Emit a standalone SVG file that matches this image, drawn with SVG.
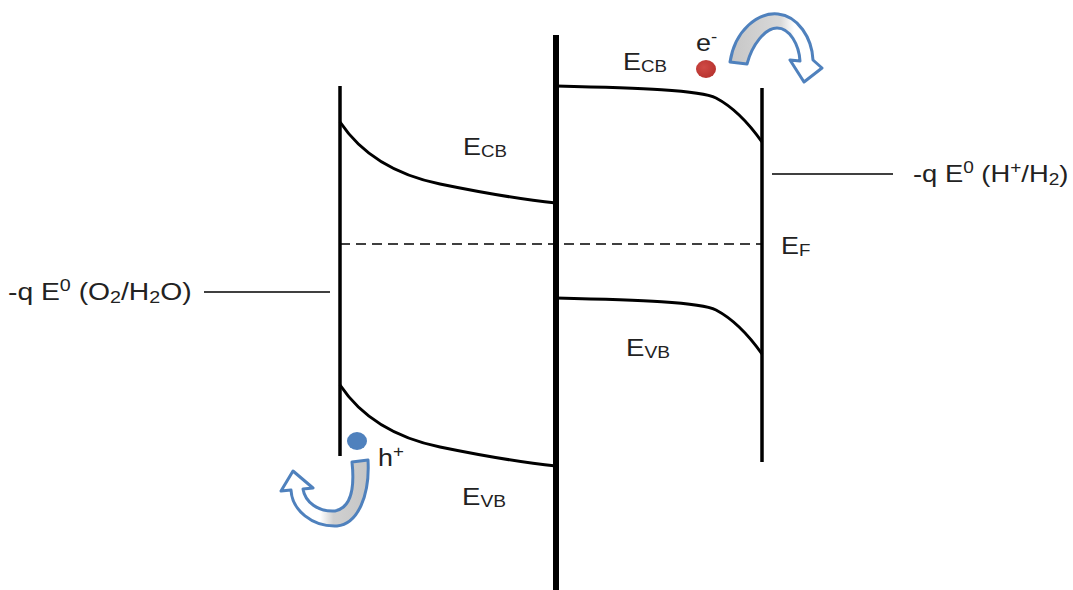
<svg xmlns="http://www.w3.org/2000/svg" width="1073" height="590" viewBox="0 0 1073 590">
<style>
.lbl{font-family:"Liberation Sans",Arial,sans-serif;font-size:23px;fill:#222}
.sub{font-size:16px}
.band{fill:none;stroke:#000;stroke-width:3}
.wall{stroke:#000;stroke-width:3.5}
.arr{stroke:#4f81bd;stroke-width:3;stroke-linejoin:round}
</style>
<defs>
<linearGradient id="g1" x1="0" y1="0" x2="1" y2="0">
<stop offset="0" stop-color="#c6c6c6"/><stop offset="0.55" stop-color="#d9d9d9"/><stop offset="0.7" stop-color="#fff"/>
</linearGradient>
<linearGradient id="g2" x1="1" y1="0" x2="0" y2="0">
<stop offset="0" stop-color="#c6c6c6"/><stop offset="0.4" stop-color="#d0d0d0"/><stop offset="0.55" stop-color="#fff"/>
</linearGradient>
<radialGradient id="rd" cx="0.4" cy="0.4" r="0.6"><stop offset="0" stop-color="#d04a45"/><stop offset="1" stop-color="#b83430"/></radialGradient>
</defs>
<g id="walls">
<line class="wall" x1="340" y1="86" x2="340" y2="456"/>
<line x1="556" y1="35" x2="556" y2="590" stroke="#000" stroke-width="6"/>
<line class="wall" x1="762" y1="88" x2="762" y2="462"/>
</g>
<g id="connectors">
<line x1="340" y1="244" x2="762" y2="244" stroke="#000" stroke-width="1.3" stroke-dasharray="10,6"/>
<line x1="772" y1="174" x2="893" y2="174" stroke="#000" stroke-width="1.3"/>
<line x1="204" y1="292" x2="330" y2="292" stroke="#000" stroke-width="1.3"/>
</g>
<g id="bands">
<path class="band" d="M340,122 Q372,170 440,184 T556,203"/>
<path class="band" d="M340,385 Q372,433 440,447 T556,466"/>
<path class="band" d="M556,86 C640,88 700,90 716,98 C735,108 750,125 762,142"/>
<path class="band" d="M556,298 C640,300 700,302 716,310 C735,320 750,337 762,354"/>
</g>
<g id="carriers">
<ellipse cx="706" cy="69" rx="10" ry="9" fill="url(#rd)"/>
<ellipse cx="357" cy="441" rx="10" ry="9" fill="#4f81bd"/>
</g>
<g id="arrow-top">
<path class="arr" fill="url(#g1)" d="M730,62 C735,30 758,12 778,14 C798,16 812,38 813,60 L822,68 L804,82 L790,60 L800,61 C799,45 790,28 777,28 C765,28 752,45 747,64 Z"/>
</g>
<g id="arrow-bottom">
<path class="arr" fill="url(#g2)" d="M368,460 C370,495 358,524 337,526 C312,527 292,510 291,490 L281,491 L293,471 L313,488 L303,489 C305,502 318,512 335,511 C350,508 355,490 352,462 Z"/>
</g>
<g id="labels">
<text class="lbl" transform="translate(463,155) scale(1.17,1)">E<tspan class="sub" dy="2">CB</tspan></text>
<text class="lbl" transform="translate(623,70) scale(1.17,1)">E<tspan class="sub" dy="2">CB</tspan></text>
<text class="lbl" transform="translate(696,51) scale(1.17,1)">e<tspan class="sub" dy="-9">-</tspan></text>
<text class="lbl" transform="translate(781,254) scale(1.17,1)">E<tspan class="sub" dy="2">F</tspan></text>
<text class="lbl" transform="translate(626,356) scale(1.2,1)">E<tspan class="sub" dy="2">VB</tspan></text>
<text class="lbl" transform="translate(462,505) scale(1.2,1)">E<tspan class="sub" dy="2">VB</tspan></text>
<text class="lbl" transform="translate(378,466) scale(1.17,1)">h<tspan class="sub" dy="-9">+</tspan></text>
<text class="lbl" transform="translate(913,182) scale(1.19,1)">-q E<tspan class="sub" dy="-9">0</tspan><tspan dy="9"> (H</tspan><tspan class="sub" dy="-9">+</tspan><tspan dy="9">/H</tspan><tspan class="sub" dy="3">2</tspan><tspan dy="-3">)</tspan></text>
<text class="lbl" transform="translate(8,300) scale(1.23,1)">-q E<tspan class="sub" dy="-9">0</tspan><tspan dy="9"> (O</tspan><tspan class="sub" dy="3">2</tspan><tspan dy="-3">/H</tspan><tspan class="sub" dy="3">2</tspan><tspan dy="-3">O)</tspan></text>
</g>
</svg>
